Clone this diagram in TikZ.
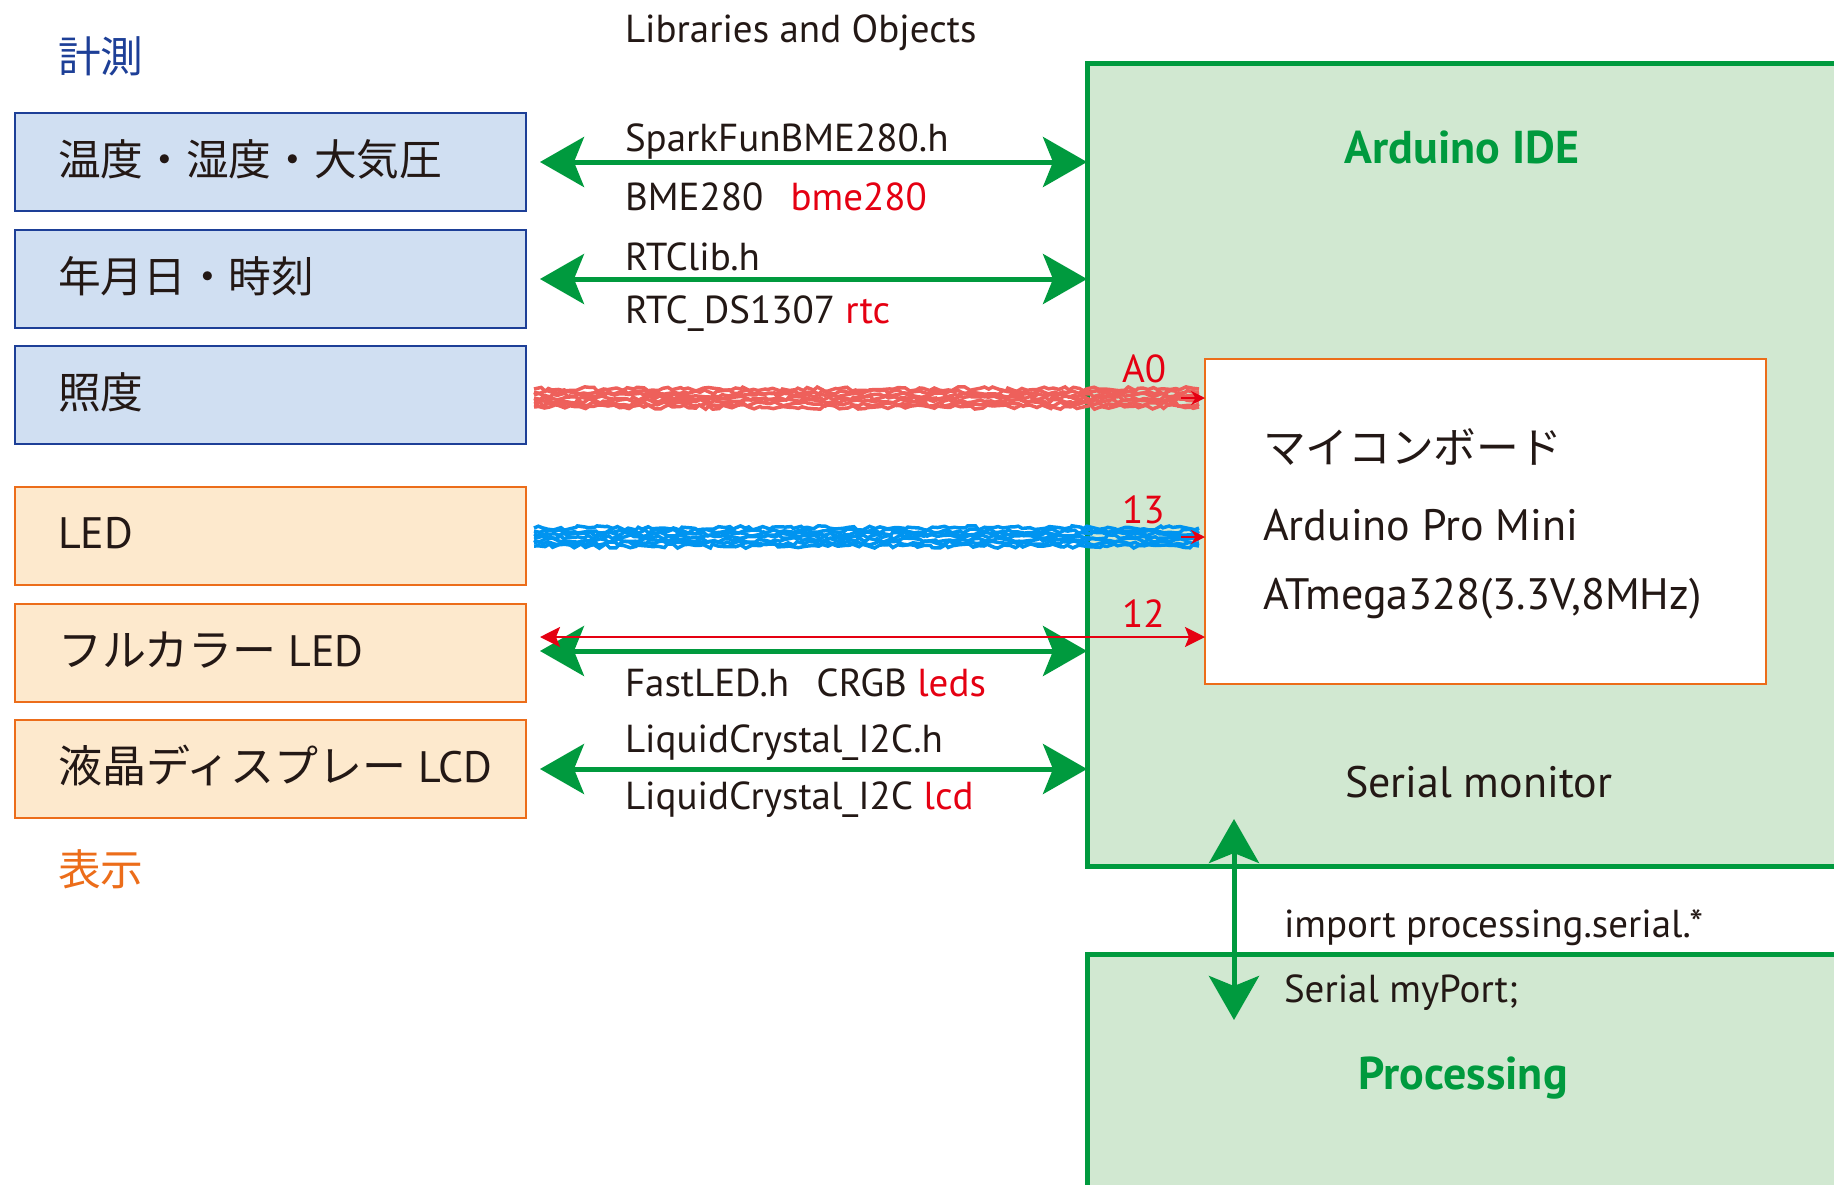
\documentclass[tikz,border=0pt]{standalone}
\usepackage{fontspec}
\setmainfont{PT Sans}
\newfontfamily\cjk{Noto Sans CJK JP}
\usetikzlibrary{arrows.meta,decorations.pathmorphing,calc}
\definecolor{tblack}{HTML}{231815}
\definecolor{mblue}{HTML}{1D3F97}
\definecolor{mbluefill}{HTML}{D0DFF2}
\definecolor{morange}{HTML}{EC6D1A}
\definecolor{morangefill}{HTML}{FDE9CD}
\definecolor{mgreen}{HTML}{009A3E}
\definecolor{mgreenfill}{HTML}{D1E8D1}
\definecolor{mred}{HTML}{E50012}
\definecolor{roughred}{HTML}{EE605B}
\definecolor{roughblue}{HTML}{0094F0}
\begin{document}
\begin{tikzpicture}[x=1pt,y=-1pt,
  every node/.style={inner sep=0pt, outer sep=0pt, text=tblack},
  inbox/.style={draw=mblue, fill=mbluefill, line width=2.5pt, minimum width=511pt, minimum height=98pt, anchor=north west},
  outbox/.style={draw=morange, fill=morangefill, line width=2.5pt, minimum width=511pt, minimum height=98pt, anchor=north west},
  boxtext/.style={anchor=west, font=\fontsize{44}{48}\selectfont},
  libtext/.style={anchor=west, font=\fontsize{39}{44}\selectfont},
  jtext/.style={anchor=west, font=\cjk\fontsize{42.7}{46}\selectfont},
  pintext/.style={anchor=west, text=mred, font=\fontsize{39}{44}\selectfont},
  bigtitle/.style={font=\bfseries\fontsize{46}{50}\selectfont, text=mgreen},
  garrow/.style={draw=mgreen, line width=5pt, {Stealth[length=44pt,width=50pt,inset=10pt]}-{Stealth[length=44pt,width=50pt,inset=10pt]}},
  rarrow/.style={draw=mred, line width=2.5pt, {Stealth[length=20pt,width=20pt,inset=4pt]}-{Stealth[length=20pt,width=20pt,inset=4pt]}},
  rough/.style={line width=3.5pt, decorate, decoration={random steps, segment length=5pt, amplitude=2.2pt}},
  greenbox/.style={draw=mgreen, fill=mgreenfill, line width=5pt, anchor=north west},
]
\useasboundingbox (0,0) rectangle (1834,1184);
\clip (0,0) rectangle (1834,1184);
\pgfmathsetseed{7}

% right side boxes
\node[greenbox, minimum width=820pt, minimum height=803pt] (ide) at (1087,63) {};
\node[greenbox, minimum width=820pt, minimum height=320pt] (proc) at (1087,954) {};
\node[draw=morange, fill=white, line width=2.5pt, minimum width=561pt, minimum height=325pt, anchor=north west] (mcu) at (1205,359) {};

\node[bigtitle] (idet) at (1462,147) {Arduino IDE};
\node[bigtitle] (proct) at (1463,1078) {Processing};
\node[jtext] (m1) at (1263,447) {マイコンボード};
\node[boxtext] (m2) at (1263,525) {Arduino Pro Mini};
\node[boxtext] (m3) at (1263,599) {ATmega328(3.3V,8MHz)};
\node[boxtext] (sm) at (1345,782) {Serial monitor};
\node[libtext] (imp) at (1284,928) {import processing.serial.*};
\node[libtext] (myp) at (1284,993) {Serial myPort;};

% headings
\node[anchor=west, font=\cjk\fontsize{42.7}{46}\selectfont, text=mblue] (keisoku) at (58,56) {計測};
\node[anchor=west, font=\cjk\fontsize{42.7}{46}\selectfont, text=morange] (hyouji) at (58,869) {表示};
\node[libtext] (libs) at (625,33) {Libraries and Objects};

% left boxes
\node[inbox] (b1) at (15,113) {};
\node[inbox] (b2) at (15,230) {};
\node[inbox] (b3) at (15,346) {};
\node[outbox] (b4) at (15,487) {};
\node[outbox] (b5) at (15,604) {};
\node[outbox] (b6) at (15,720) {};
\node[jtext] (t1) at ([xshift=43pt,yshift=3pt]b1.west) {温度・湿度・大気圧};
\node[jtext] (t2) at ([xshift=43pt,yshift=3pt]b2.west) {年月日・時刻};
\node[jtext] (t3) at ([xshift=43pt,yshift=3pt]b3.west) {照度};
\node[boxtext] (t4) at ([xshift=43pt,yshift=3pt]b4.west) {LED};
\node[boxtext] (t5) at ([xshift=43pt,yshift=3pt]b5.west) {{\cjk フルカラー} LED};
\node[boxtext] (t6) at ([xshift=43pt,yshift=3pt]b6.west) {{\cjk 液晶ディスプレー} LCD};

% library labels
\node[libtext] (l1a) at (625,142) {SparkFunBME280.h};
\node[libtext] (l1b) at (625,197) {BME280\hspace{0.7em}\textcolor{mred}{bme280}};
\node[libtext] (l2a) at (625,257) {RTClib.h};
\node[libtext] (l2b) at (625,314) {RTC\_DS1307 \textcolor{mred}{rtc}};
\node[libtext] (l5) at (625,683) {FastLED.h\hspace{0.7em}CRGB \textcolor{mred}{leds}};
\node[libtext] (l6a) at (625,743) {LiquidCrystal\_I2C.h};
\node[libtext] (l6b) at (625,800) {LiquidCrystal\_I2C \textcolor{mred}{lcd}};

% pin labels
\node[pintext] (pa0) at (1122,369) {A0};
\node[pintext] (p13) at (1122,510) {13};
\node[pintext] (p12) at (1122,614) {12};

% green library arrows
\draw[garrow] ([xshift=14pt]b1.east) -- (b1.east -| ide.west);
\draw[garrow] ([xshift=14pt]b2.east) -- (b2.east -| ide.west);
\draw[garrow] ([xshift=14pt,yshift=2pt]b5.east) -- ([yshift=2pt]b5.east -| ide.west);
\draw[garrow] ([xshift=14pt]b6.east) -- (b6.east -| ide.west);

% red thin arrow (pin 12)
\draw[rarrow] ([xshift=14pt,yshift=16pt]b5.east) -- ([yshift=16pt]b5.east -| mcu.west);

% rough arrows (A0, 13)
\foreach \dy in {-9,-6,-3,0,3,6,9} {
  \draw[rough, roughred] ([xshift=8pt,yshift=\dy pt-3pt]b3.east) -- ([xshift=-6pt,yshift=\dy pt-3pt]b3.east -| mcu.west);
  \draw[rough, roughblue] ([xshift=8pt,yshift=\dy pt-1pt]b4.east) -- ([xshift=-6pt,yshift=\dy pt-1pt]b4.east -| mcu.west);
}
\draw[draw=mred, line width=1.5pt, -{Stealth[length=14pt,width=14pt]}] ([xshift=-24pt,yshift=-3pt]b3.east -| mcu.west) -- ([yshift=-3pt]b3.east -| mcu.west);
\draw[draw=mred, line width=1.5pt, -{Stealth[length=14pt,width=14pt]}] ([xshift=-24pt,yshift=-1pt]b4.east -| mcu.west) -- ([yshift=-1pt]b4.east -| mcu.west);

% serial arrow
\coordinate (sa) at (1234,819);
\coordinate (sb) at (1234,1020);
\draw[garrow] (sa) -- (sb);
\end{tikzpicture}
\end{document}
